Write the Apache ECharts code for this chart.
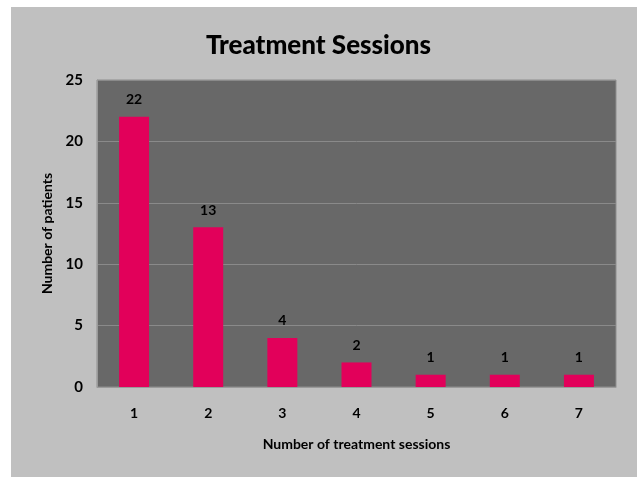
<!DOCTYPE html>
<html>
<head>
<meta charset="utf-8">
<script src="https://cdn.jsdelivr.net/npm/echarts@6/dist/echarts.min.js"></script>
<style>
  html, body { margin: 0; padding: 0; background: #fff; }
  #chart { width: 637px; height: 477px; }
</style>
</head>
<body>
<div id="chart"></div>
<script>
// sessions per patient
const sessions = ['1', '2', '3', '4', '5', '6', '7'];
const patients = [22, 13, 4, 2, 1, 1, 1];

const fontFam = 'Lato, "Open Sans", sans-serif';

const chart = echarts.init(document.getElementById('chart'));
chart.setOption({
    backgroundColor: '#ffffff',
    animation: false,
    graphic: [{
        type: 'rect',
        z: -10,
        shape: { x: 11, y: 7, width: 626, height: 470 },
        style: { fill: '#c0c0c0' }
    }],
    title: {
        text: 'Treatment Sessions',
        left: 'center',
        top: 28,
        textStyle: {
            color: '#000',
            fontSize: 26,
            fontWeight: 900,
            fontFamily: fontFam
        }
    },
    grid: {
        left: 97,
        right: 21,
        top: 80,
        bottom: 90,
        show: true,
        backgroundColor: '#686868',
        borderColor: '#8e8e8e',
        borderWidth: 1
    },
    xAxis: {
        type: 'category',
        data: sessions,
        name: 'Number of treatment sessions',
        nameLocation: 'middle',
        nameGap: 50,
        nameTextStyle: { color: '#000', fontSize: 14, fontWeight: 'bold', fontFamily: fontFam },
        axisLine: { lineStyle: { color: '#9a9a9a' } },
        axisTick: { show: false },
        axisLabel: { color: '#000', fontSize: 14, fontWeight: 'bold', fontFamily: fontFam, margin: 19 }
    },
    yAxis: {
        type: 'value',
        min: 0,
        max: 25,
        interval: 5,
        name: 'Number of patients',
        nameLocation: 'middle',
        nameGap: 43,
        nameTextStyle: { color: '#000', fontSize: 14, fontWeight: 'bold', fontFamily: fontFam },
        axisLine: { show: true, lineStyle: { color: '#9a9a9a' } },
        axisTick: { show: false },
        axisLabel: { color: '#000', fontSize: 15, fontWeight: 'bold', fontFamily: fontFam, margin: 14 },
        splitLine: { lineStyle: { color: '#8a8a8a', width: 1 } }
    },
    series: [{
        type: 'bar',
        data: patients,
        barWidth: 30,
        itemStyle: { color: '#e2005a' },
        label: {
            show: true,
            position: 'top',
            distance: 10,
            color: '#000',
            fontSize: 14,
            fontWeight: 'bold',
            fontFamily: fontFam
        }
    }]
});
</script>
</body>
</html>
